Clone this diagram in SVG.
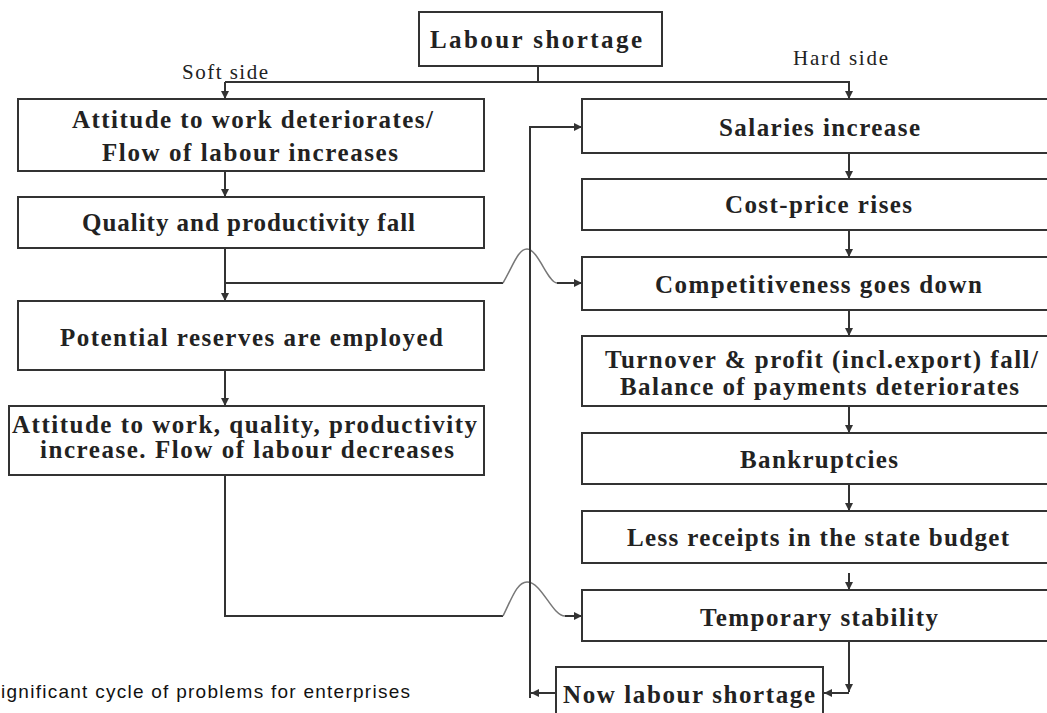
<svg xmlns="http://www.w3.org/2000/svg" width="1047" height="713" viewBox="0 0 1047 713">
  <style>
    .box { fill: #fff; stroke: #333; stroke-width: 2; }
    .lbl { font-family: "Liberation Serif", "Times New Roman", serif; font-weight: bold; font-size: 25px; fill: #222; }
    .side { font-family: "Liberation Serif", "Times New Roman", serif; font-size: 21px; fill: #222; }
    .cap { font-family: "Liberation Sans", Arial, sans-serif; font-size: 19px; fill: #111; }
    .ln { fill: none; stroke: #333; stroke-width: 2; }
    .jump { fill: none; stroke: #777; stroke-width: 1.5; }
  </style>
  <defs>
    <marker id="arr" viewBox="0 0 8 8" refX="8" refY="4" markerWidth="8" markerHeight="8" markerUnits="userSpaceOnUse" orient="auto">
      <path d="M0,0 L8,4 L0,8 z" fill="#333"/>
    </marker>
  </defs>
  <rect width="1047" height="713" fill="#fff"/>

  <!-- connectors -->
  <g id="connectors">
    <!-- split from the root -->
    <path class="ln" d="M538,66 V82"/>
    <path class="ln" d="M225,82 H850"/>
    <path class="ln" d="M225,82 V99" marker-end="url(#arr)"/>
    <path class="ln" d="M849,82 V99" marker-end="url(#arr)"/>
    <!-- soft side chain -->
    <path class="ln" d="M225,171 V197" marker-end="url(#arr)"/>
    <path class="ln" d="M225,248 V301" marker-end="url(#arr)"/>
    <path class="ln" d="M225,370 V406" marker-end="url(#arr)"/>
    <!-- branch to competitiveness, hopping over the feedback line -->
    <path class="ln" d="M225,283 H503"/>
    <path class="jump" d="M503,283 C513,266 518,249 527,249 C538,249 548,283 557,283"/>
    <path class="ln" d="M557,283 H582" marker-end="url(#arr)"/>
    <!-- soft side into temporary stability -->
    <path class="ln" d="M225,475 V616 H503"/>
    <path class="jump" d="M503,616 C512,598 517,582 527,582 C542,582 552,616 565,616"/>
    <path class="ln" d="M565,616 H582" marker-end="url(#arr)"/>
    <!-- hard side chain -->
    <path class="ln" d="M849,153 V179" marker-end="url(#arr)"/>
    <path class="ln" d="M849,230 V257" marker-end="url(#arr)"/>
    <path class="ln" d="M849,310 V336" marker-end="url(#arr)"/>
    <path class="ln" d="M849,406 V433" marker-end="url(#arr)"/>
    <path class="ln" d="M849,484 V511" marker-end="url(#arr)"/>
    <path class="ln" d="M849,573 V590" marker-end="url(#arr)"/>
    <path class="ln" d="M849,641 V692" marker-end="url(#arr)"/>
    <path class="ln" d="M849,693 H824" marker-end="url(#arr)"/>
    <!-- feedback loop back to salaries -->
    <path class="ln" d="M556,693 H531" marker-end="url(#arr)"/>
    <path class="ln" d="M530,698 V127 H582" marker-end="url(#arr)"/>
  </g>

  <g id="labour-shortage">
    <rect class="box" x="419" y="12" width="243" height="54"/>
    <text class="lbl" x="430" y="48" font-size="27" textLength="212">Labour shortage</text>
  </g>

  <text class="side" x="182" y="79" textLength="86">Soft side</text>
  <text class="side" x="793" y="65" textLength="95">Hard side</text>

  <!-- soft side -->
  <g id="attitude-deteriorates">
    <rect class="box" x="18" y="99" width="466" height="72"/>
    <text class="lbl" x="72" y="128" textLength="361">Attitude to work deteriorates/</text>
    <text class="lbl" x="102" y="161" textLength="296">Flow of labour increases</text>
  </g>
  <g id="quality-falls">
    <rect class="box" x="18" y="197" width="466" height="51"/>
    <text class="lbl" x="82" y="231" textLength="333">Quality and productivity fall</text>
  </g>
  <g id="reserves-employed">
    <rect class="box" x="18" y="301" width="466" height="69"/>
    <text class="lbl" x="60" y="346" textLength="383">Potential reserves are employed</text>
  </g>
  <g id="attitude-improves">
    <rect class="box" x="9" y="406" width="475" height="69"/>
    <text class="lbl" x="12" y="433" textLength="465">Attitude to work, quality, productivity</text>
    <text class="lbl" x="40" y="458" textLength="414">increase. Flow of labour decreases</text>
  </g>

  <!-- hard side -->
  <g id="salaries">
    <rect class="box" x="582" y="99" width="480" height="54"/>
    <text class="lbl" x="719" y="136" textLength="201">Salaries increase</text>
  </g>
  <g id="cost-price">
    <rect class="box" x="582" y="179" width="480" height="51"/>
    <text class="lbl" x="725" y="213" textLength="187">Cost-price rises</text>
  </g>
  <g id="competitiveness">
    <rect class="box" x="582" y="257" width="480" height="53"/>
    <text class="lbl" x="655" y="293" textLength="327">Competitiveness goes down</text>
  </g>
  <g id="turnover">
    <rect class="box" x="582" y="336" width="480" height="70"/>
    <text class="lbl" x="605" y="368" textLength="433">Turnover &amp; profit (incl.export) fall/</text>
    <text class="lbl" x="620" y="395" textLength="399">Balance of payments deteriorates</text>
  </g>
  <g id="bankruptcies">
    <rect class="box" x="582" y="433" width="480" height="51"/>
    <text class="lbl" x="740" y="468" textLength="158">Bankruptcies</text>
  </g>
  <g id="state-budget">
    <rect class="box" x="582" y="511" width="480" height="52"/>
    <text class="lbl" x="627" y="546" textLength="382">Less receipts in the state budget</text>
  </g>
  <g id="temporary-stability">
    <rect class="box" x="582" y="590" width="480" height="51"/>
    <text class="lbl" x="700" y="626" textLength="238">Temporary stability</text>
  </g>
  <g id="now-labour-shortage">
    <rect class="box" x="556" y="667" width="267" height="60"/>
    <text class="lbl" x="563" y="703" textLength="252">Now labour shortage</text>
  </g>

  <text class="cap" x="1" y="698" textLength="409">ignificant cycle of problems for enterprises</text>
</svg>
